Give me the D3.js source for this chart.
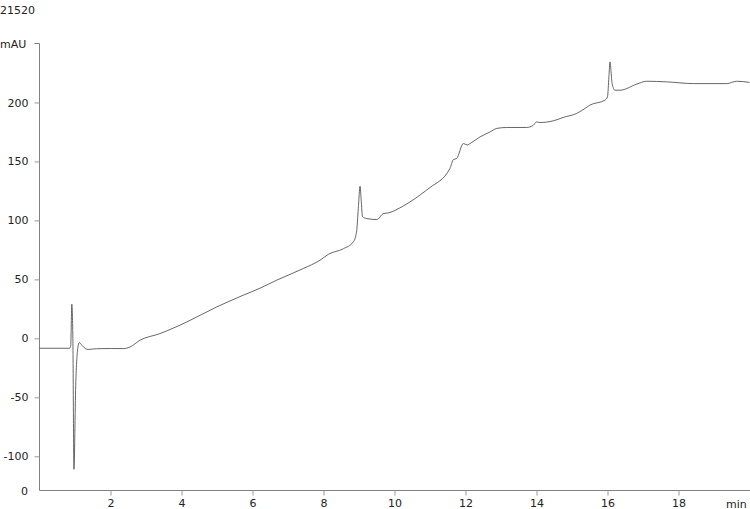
<!DOCTYPE html>
<html>
<head>
<meta charset="utf-8">
<script src="https://cdn.jsdelivr.net/npm/d3@7.9.0/dist/d3.min.js"></script>
<style>
  body { margin: 0; background: #fff; }
  svg text { font-family: "DejaVu Sans", Verdana, sans-serif; font-size: 11px; fill: #222; }
</style>
</head>
<body>
<svg width="750" height="509"></svg>
<script>
// trace (min, mAU)
const times = [0, 0.85, 0.88, 0.91, 0.94, 0.97, 1.02, 1.08, 1.12, 1.2, 1.3, 1.37, 1.6, 2.0, 2.36, 2.55,
  2.83, 3.39, 4.15, 4.99, 5.74, 6.21, 6.68, 7.43, 7.9, 8.14, 8.56, 8.84, 8.93, 8.98, 9.03, 9.06, 9.1,
  9.22, 9.5, 9.69, 9.83, 10.25, 10.9, 11.0, 11.56, 11.66, 11.75, 11.94, 12.05, 12.13, 12.41, 12.69, 12.88,
  13.16, 13.72, 13.91, 14.0, 14.1, 14.47, 14.75, 15.13, 15.37, 15.5, 15.93, 16.0, 16.04, 16.07, 16.1,
  16.13, 16.21, 16.35, 16.82, 17.1, 17.66, 18.42, 19.36, 19.64, 20.0];
const values = [-8.4, -8.4, -6, 29, 0, -111, -40, -8, -3.6, -6, -8.8, -9.4, -8.8, -8.6, -8.7, -7.3,
  -1.6, 4, 13.9, 26.6, 36.6, 42.5, 49.3, 59.2, 66.2, 71.3, 76, 81.8, 90, 110, 129, 118, 103,
  101.6, 100.7, 105.8, 106.4, 112.3, 125.6, 127.9, 144, 151.6, 152.5, 165.2, 164, 165.2, 170.8, 175, 178,
  178.8, 178.8, 180.7, 183.5, 183, 184.4, 187.3, 190.7, 195, 197.7, 202, 204.8, 222, 234.4, 226,
  216, 210.4, 210.4, 215.5, 218, 217.5, 216, 216, 218, 217];

const xTicks = [2, 4, 6, 8, 10, 12, 14, 16, 18];
const yTicks = [-100, -50, 0, 50, 100, 150, 200];
const title = '21520';
const yUnit = 'mAU';
const xUnit = 'min';

const svg = d3.select('svg');
const x = d3.scaleLinear().domain([0, 20]).range([39.5, 749.5]);
const y = d3.scaleLinear().domain([-129, 250]).range([490.5, 43.5]);
const fmt = d => String(d);  // plain hyphen minus like the original

svg.append('text').attr('x', 0).attr('y', 14).text(title);

// y axis
const yAxis = svg.append('g').attr('transform', `translate(${x(0)},0)`)
  .call(d3.axisLeft(y).tickValues(yTicks).tickFormat(fmt).tickSize(5).tickPadding(6));
yAxis.select('.domain').attr('stroke', '#808080').attr('d', `M-5,${y(250)}H0V${y(-129)}`);
yAxis.selectAll('.tick line').attr('stroke', '#999');
yAxis.selectAll('.tick text').attr('font-size', 11).attr('fill', '#222')
  .attr('font-family', '"DejaVu Sans", Verdana, sans-serif');
svg.append('text').attr('x', 0).attr('y', y(250) + 4).text(yUnit);

// x axis
const xAxis = svg.append('g').attr('transform', `translate(0,${y(-129)})`)
  .call(d3.axisBottom(x).tickValues(xTicks).tickSize(5).tickPadding(4));
xAxis.select('.domain').attr('stroke', '#808080').attr('d', `M${x(0)},0H750`);
xAxis.selectAll('.tick line').attr('stroke', '#999');
xAxis.selectAll('.tick text').attr('font-size', 11).attr('fill', '#222')
  .attr('font-family', '"DejaVu Sans", Verdana, sans-serif');
svg.append('text').attr('x', 28).attr('y', y(-129) + 4).attr('text-anchor', 'end').text('0');
svg.append('text').attr('x', 726).attr('y', y(-129) + 17).text(xUnit);

// trace
const data = times.map((t, i) => ({t, v: values[i]}));
svg.append('path').datum(data)
  .attr('fill', 'none').attr('stroke', '#555').attr('stroke-width', 0.9)
  .attr('d', d3.line().x(d => x(d.t)).y(d => y(d.v)).curve(d3.curveMonotoneX));
</script>
</body>
</html>
